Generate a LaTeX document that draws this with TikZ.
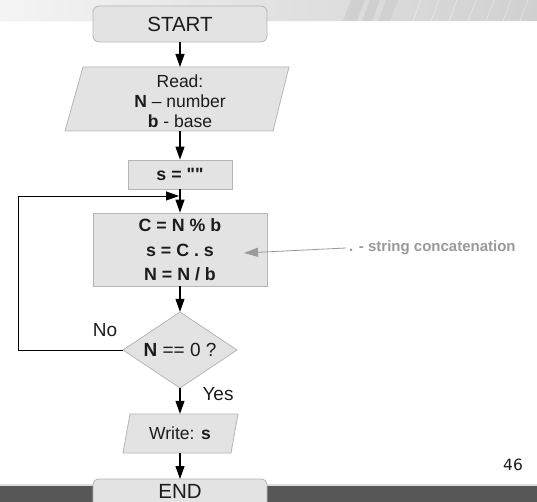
\documentclass[tikz,border=0pt]{standalone}
\usepackage{fontspec}
\setmainfont{Liberation Sans}[Ligatures=TeXOff]
\newfontfamily\pagenumfont{DejaVu Sans}
\usetikzlibrary{arrows.meta}
\definecolor{boxfill}{HTML}{E3E3E3}
\definecolor{boxline}{HTML}{B5B5B5}
\definecolor{inkgray}{HTML}{1C1C1C}
\definecolor{notegray}{HTML}{999999}
\definecolor{bandlight}{HTML}{F4F4F4}
\definecolor{banddark}{HTML}{D0D0D0}
\definecolor{footer}{HTML}{575757}
\begin{document}
\begin{tikzpicture}[x=1pt,y=-1pt,
  shapefill/.style={fill=boxfill,draw=boxline,line width=0.8pt},
  box/.style={rectangle,shapefill,inner sep=0pt,text=inkgray,align=center},
  termfont/.style={font=\fontsize{20.5}{22}\selectfont},
  term/.style={box,rounded corners=6pt,minimum width=174pt,termfont},
  holder/.style={rectangle,inner sep=0pt,text=inkgray,align=center},
  body/.style={font=\fontsize{17.5}{20}\selectfont},
  boldbody/.style={font=\fontsize{17.8}{24}\selectfont\bfseries},
  label/.style={text=inkgray,inner sep=0pt,font=\fontsize{19}{22}\selectfont},
  flow/.style={draw=black,line width=1.1pt,-{Triangle[length=13pt,width=9pt]}},
  noteflow/.style={draw=notegray,line width=0.8pt,-{Triangle[length=14pt,width=9pt]}}]
\useasboundingbox (0,0) rectangle (537,502);

% header band with slanted stripes
\shade[left color=bandlight,right color=banddark] (0,0) rectangle (537,21);
\fill[black,opacity=0.05] (343,21) -- (351,0) -- (365,0) -- (357,21) -- cycle;
\fill[black,opacity=0.05] (362,21) -- (370,0) -- (380,0) -- (372,21) -- cycle;
\fill[black,opacity=0.04] (378,21) -- (386,0) -- (398,0) -- (390,21) -- cycle;
\foreach \sx in {413,431,449,468,486,503,520}
  \draw[white,opacity=0.45,line width=0.6pt] (\sx,21) -- (\sx+8,0);
\draw[white!95!gray,line width=0.8pt] (0,21.5) -- (537,21.5);

% footer band
\fill[gray!25] (0,483.5) rectangle (537,486);
\fill[footer] (0,486) rectangle (537,502);

% input / output parallelograms, decision diamond, end terminal (runs past the page edge)
\filldraw[shapefill] (83,67) -- (289,67) -- (273,131) -- (65,131) -- cycle;
\filldraw[shapefill] (130,414) -- (238,414) -- (231,453) -- (123,453) -- cycle;
\filldraw[shapefill] (180,312) -- (237,350) -- (180,388) -- (123,350) -- cycle;
\filldraw[shapefill,rounded corners=6pt] (93,479) rectangle (267,512);

% flowchart nodes
\node[term,minimum height=36pt] (start) at (180,24) {START};
\node[holder,body,minimum height=64pt] (read) at (180,101)
  {Read:\\ \textbf{N} – number\\ \textbf{b} - base};
\coordinate (readtop) at (180,67);
\coordinate (readbottom) at (180,131);
\node[box,boldbody,minimum width=104pt,minimum height=29pt] (init) at (180,174.5) {s = ""};
\node[box,boldbody,minimum width=174pt,minimum height=73pt] (calc) at (180,249.5)
  {C = N \% b\\[1.5pt] s = C . s\\ N = N / b};
\node[holder,minimum width=114pt,minimum height=76pt,font=\fontsize{19}{22}\selectfont] (test) at (180,350)
  {\textbf{N} == 0 ?};
\node[holder,body,minimum height=39pt] (out) at (180,433.5) {Write: \textbf{s}};
\node[holder,termfont] (end) at (180,491.5) {END};
\coordinate (endtop) at (180,479);

\node[label] (nolabel) at (105,330) {No};
\node[label] (yeslabel) at (218,394) {Yes};

% connectors
\draw[flow] (start) -- (readtop);
\draw[flow] (readbottom) -- (init);
\draw[flow] (init) -- (calc);
\draw[flow] (calc) -- (test);
\draw[flow] (test) -- (out);
\draw[flow] (out) -- (endtop);

\coordinate (loopin) at (179,196);
\draw[flow,line width=0.9pt] (test.west) -- ++(-104,0) |- (loopin);

% side note
\node[anchor=west,inner sep=3pt,text=notegray,font=\fontsize{15}{18}\selectfont\bfseries] (note) at (346,248)
  {. - string concatenation};
\coordinate (notetip) at (244,253);
\draw[noteflow] (note.west) -- (notetip);

% page number
\node[text=inkgray,font=\pagenumfont\fontsize{15.5}{18}\selectfont] (pagenum) at (513,465) {46};
\end{tikzpicture}
\end{document}
